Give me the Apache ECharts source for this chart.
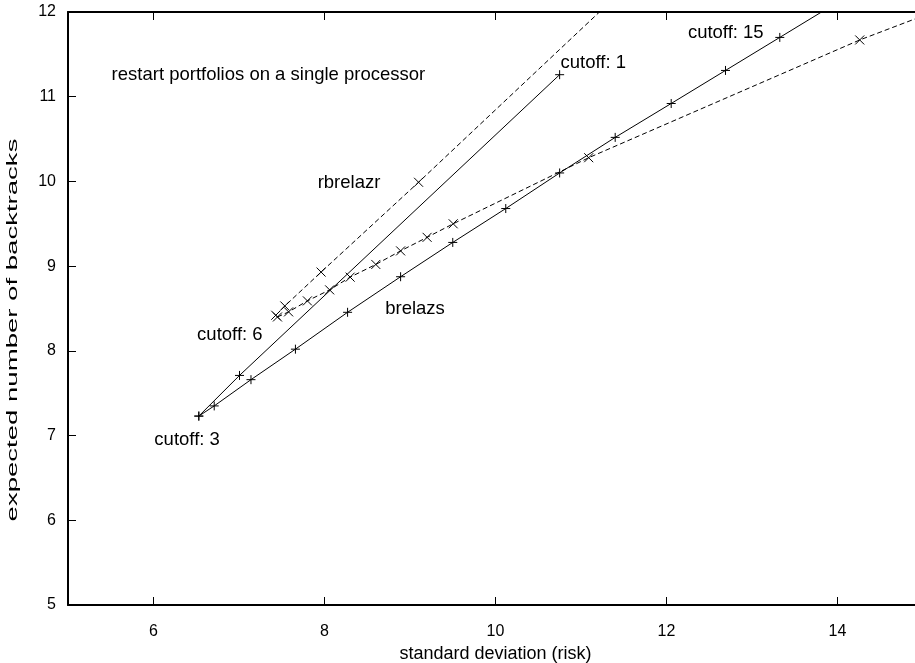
<!DOCTYPE html>
<html>
<head>
<meta charset="utf-8">
<script src="https://cdn.jsdelivr.net/npm/echarts@6/dist/echarts.min.js"></script>
<style>
  html, body { margin: 0; padding: 0; background: #fff; }
  #chart { width: 915px; height: 663px; }
</style>
</head>
<body>
<div id="chart"></div>
<script>
// brelazs, solid line up to cutoff 15
var brelazsX = [6.53, 6.71, 7.14, 7.66, 8.27, 8.89, 9.50, 10.12, 10.75, 11.40, 12.055, 12.69, 13.325, 13.96];
var brelazsY = [7.23, 7.35, 7.66, 8.02, 8.455, 8.875, 9.28, 9.68, 10.10, 10.52, 10.92, 11.31, 11.70, 12.09];
// brelazs, solid line to cutoff 1
var brelazs1X = [6.53, 7.006, 10.75];
var brelazs1Y = [7.23, 7.71, 11.26];
// rbrelazr, dashed, steep branch
var rbrelazrX = [7.43, 7.536, 7.96, 9.10, 11.9];
var rbrelazrY = [8.42, 8.53, 8.93, 9.99, 12.65];
// rbrelazr, dashed, flat branch
var rbrelazr2X = [7.45, 7.58, 7.80, 8.06, 8.30, 8.60, 8.89, 9.20, 9.505, 11.09, 14.26, 15.9];
var rbrelazr2Y = [8.40, 8.46, 8.59, 8.72, 8.87, 9.02, 9.18, 9.34, 9.50, 10.28, 11.67, 12.30];

var xTicks = [6, 8, 10, 12, 14];

// text labels: [text, x, y] (left edge, vertical middle)
var notes = [
  ['restart portfolios on a single processor', 5.51, 11.26],
  ['cutoff: 1', 10.76, 11.40],
  ['cutoff: 15', 12.25, 11.75],
  ['rbrelazr', 7.92, 9.98],
  ['brelazs', 8.71, 8.49],
  ['cutoff: 6', 6.51, 8.19],
  ['cutoff: 3', 6.01, 6.95]
];

function pairs(xs, ys) {
  return xs.map(function (x, i) { return [x, ys[i]]; });
}

var FONT = '"Liberation Sans", Arial, sans-serif';
var PLUS = 'path://M0,5L10,5M5,0L5,10';
var CROSS = 'path://M0,0L10,10M10,0L0,10';

var myChart = echarts.init(document.getElementById('chart'));

function mkSeries(name, xs, ys, dashed, sym) {
  return {
    name: name,
    type: 'line',
    data: pairs(xs, ys),
    symbol: sym,
    symbolSize: 9,
    showSymbol: true,
    clip: true,
    lineStyle: { color: '#000', width: 1, type: dashed ? [5, 3] : 'solid' },
    itemStyle: { color: '#000', borderColor: '#000', borderWidth: 1 },
    emphasis: { disabled: true }
  };
}

var axisLine = { show: true, lineStyle: { color: '#000', width: 2 } };

var option = {
  animation: false,
  grid: { left: 68, top: 12, right: -8, bottom: 58, outerBoundsMode: 'none', containLabel: false },
  xAxis: [
    {
      type: 'value', min: 5, max: 15, position: 'bottom',
      name: 'standard deviation (risk)', nameLocation: 'middle', nameGap: 40,
      nameTextStyle: { color: '#000', fontSize: 18, fontFamily: FONT },
      axisLine: axisLine,
      axisTick: { inside: true, length: 8, customValues: xTicks, lineStyle: { color: '#000' } },
      axisLabel: { customValues: xTicks, color: '#000', fontSize: 16, fontFamily: FONT, margin: 19 },
      splitLine: { show: false }
    },
    {
      type: 'value', min: 5, max: 15, position: 'top',
      axisLine: axisLine,
      axisTick: { inside: true, length: 8, customValues: xTicks, lineStyle: { color: '#000' } },
      axisLabel: { show: false },
      splitLine: { show: false }
    }
  ],
  yAxis: {
    type: 'value', min: 5, max: 12, interval: 1,
    axisLine: axisLine,
    axisTick: { inside: true, length: 8, lineStyle: { color: '#000' } },
    axisLabel: { color: '#000', fontSize: 16, fontFamily: FONT, margin: 12 },
    splitLine: { show: false }
  },
  series: [
    mkSeries('brelazs', brelazsX, brelazsY, false, PLUS),
    mkSeries('brelazs cutoff 1', brelazs1X, brelazs1Y, false, PLUS),
    mkSeries('rbrelazr', rbrelazrX, rbrelazrY, true, CROSS),
    mkSeries('rbrelazr 2', rbrelazr2X, rbrelazr2Y, true, CROSS)
  ]
};
myChart.setOption(option);

// annotations + rotated y title
var g = notes.map(function (n) {
  var p = myChart.convertToPixel({ gridIndex: 0 }, [n[1], n[2]]);
  return {
    type: 'text', x: p[0], y: p[1],
    style: { text: n[0], fill: '#000', font: '18.5px ' + FONT, align: 'left', verticalAlign: 'middle' }
  };
});
g.push({
  type: 'text', x: 13, y: 330, rotation: Math.PI / 2, scaleX: 1.9,
  style: { text: 'expected number of backtracks', fill: '#000', font: '14.5px ' + FONT, align: 'center', verticalAlign: 'middle' }
});
myChart.setOption({ graphic: g });

window.addEventListener('resize', function () {
  myChart.resize();
});
</script>
</body>
</html>
